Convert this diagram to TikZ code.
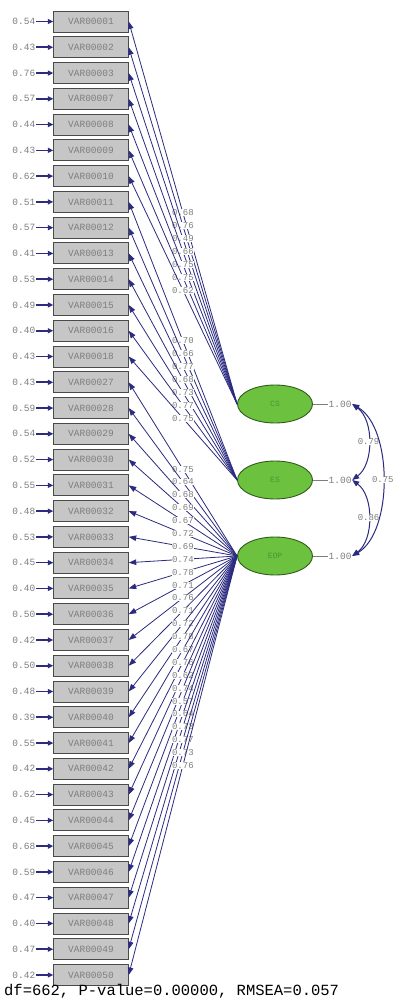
\documentclass[tikz,border=0pt]{standalone}
\usepackage{fontspec}
\setmonofont{Liberation Mono}
\usetikzlibrary{arrows.meta,shapes.geometric}
\definecolor{navy}{HTML}{2B2B80}
\definecolor{boxgray}{HTML}{C6C6C6}
\definecolor{boxline}{HTML}{4A4A4A}
\definecolor{txtgray}{HTML}{7E7E7E}
\definecolor{latgreen}{HTML}{6CC23E}
\definecolor{latborder}{HTML}{2F5C1C}
\definecolor{lattext}{HTML}{3E9A3A}
\begin{document}
\begin{tikzpicture}[x=1pt,y=-1pt,
  obs/.style={draw=boxline, fill=boxgray, line width=0.9pt, minimum width=74.5pt, minimum height=21pt, inner sep=0pt,
    font=\ttfamily\fontsize{9.5}{10}\selectfont, text=txtgray},
  lat/.style={ellipse, draw=latborder, fill=latgreen, line width=0.9pt, minimum width=75pt, minimum height=38pt, inner sep=0pt,
    font=\ttfamily\fontsize{8}{9}\selectfont, text=lattext},
  errlab/.style={font=\ttfamily\fontsize{9.5}{10}\selectfont, text=txtgray, inner sep=0.5pt},
  loadlab/.style={pos=0.5, fill=white, inner sep=0.4pt, font=\ttfamily\fontsize{9}{9}\selectfont, text=txtgray},
  corrlab/.style={pos=0.5, fill=white, inner sep=0.4pt, font=\ttfamily\fontsize{9}{9}\selectfont, text=txtgray},
  pathline/.style={draw=navy, line width=0.8pt, -{Triangle[length=7.5pt,width=5.5pt]}},
  errarrow/.style={draw=navy, line width=1.6pt, -{Triangle[length=5.5pt,width=5pt]}},
  varline/.style={draw=txtgray, line width=0.5pt},
  corr/.style={draw=navy, line width=1pt, {Triangle[length=7pt,width=5.5pt]}-{Triangle[length=7pt,width=5.5pt]}}
]
\useasboundingbox (0,0) rectangle (395,1003);
\fill[white] (0,0) rectangle (395,1003);

% latent variables
\node[lat] (cs) at (275,404) {CS};
\node[lat] (es) at (275,480) {ES};
\node[lat] (eop) at (275,556) {EOP};

% indicators
\foreach \v/\err/\f/\ld [count=\i] in {
 00001/0.54/cs/0.68, 00002/0.43/cs/0.76, 00003/0.76/cs/0.49, 00007/0.57/cs/0.66,
 00008/0.44/cs/0.75, 00009/0.43/cs/0.75, 00010/0.62/cs/0.62,
 00011/0.51/es/0.70, 00012/0.57/es/0.66, 00013/0.41/es/0.77, 00014/0.53/es/0.68,
 00015/0.49/es/0.73, 00016/0.40/es/0.77, 00018/0.43/es/0.75,
 00027/0.43/eop/0.75, 00028/0.59/eop/0.64, 00029/0.54/eop/0.68, 00030/0.52/eop/0.69,
 00031/0.55/eop/0.67, 00032/0.48/eop/0.72, 00033/0.53/eop/0.69, 00034/0.45/eop/0.74,
 00035/0.40/eop/0.78, 00036/0.50/eop/0.71, 00037/0.42/eop/0.76, 00038/0.50/eop/0.71,
 00039/0.48/eop/0.72, 00040/0.39/eop/0.78, 00041/0.55/eop/0.67, 00042/0.42/eop/0.76,
 00043/0.62/eop/0.62, 00044/0.45/eop/0.74, 00045/0.68/eop/0.57, 00046/0.59/eop/0.64,
 00047/0.47/eop/0.73, 00048/0.40/eop/0.77, 00049/0.47/eop/0.73, 00050/0.42/eop/0.76}
{
  \pgfmathsetmacro{\yy}{21.5+(\i-1)*25.77}
  \node[obs] (b\i) at (91,\yy) {VAR\v};
  \node[errlab, anchor=east] (e\i) at (36,\yy) {\err};
  \draw[errarrow] (e\i.east) -- (b\i.west);
  \draw[pathline] (\f.west) -- node[loadlab] (l\i) {\ld} (b\i.east);
}

% variances of latent variables
\node[errlab, anchor=west] (v1) at (328,404) {1.00};
\node[errlab, anchor=west] (v2) at (328,480) {1.00};
\node[errlab, anchor=west] (v3) at (328,556) {1.00};
\draw[varline] (cs.east) -- (v1.west);
\draw[varline] (es.east) -- (v2.west);
\draw[varline] (eop.east) -- (v3.west);

% correlations
\draw[corr] (v1.east) .. controls (374,420) and (374,464) .. node[corrlab] (c12) {0.79} (v2.east);
\draw[corr] (v2.east) .. controls (374,496) and (374,540) .. node[corrlab] (c23) {0.86} (v3.east);
\draw[corr] (v1.east) .. controls (393,428) and (393,532) .. node[corrlab] (c13) {0.75} (v3.east);

% fit statistics
\node[anchor=west, inner sep=0pt, font=\ttfamily\fontsize{15.5}{16}\selectfont, text=black] (fit) at (4,991) {df=662, P-value=0.00000, RMSEA=0.057};
\end{tikzpicture}
\end{document}
